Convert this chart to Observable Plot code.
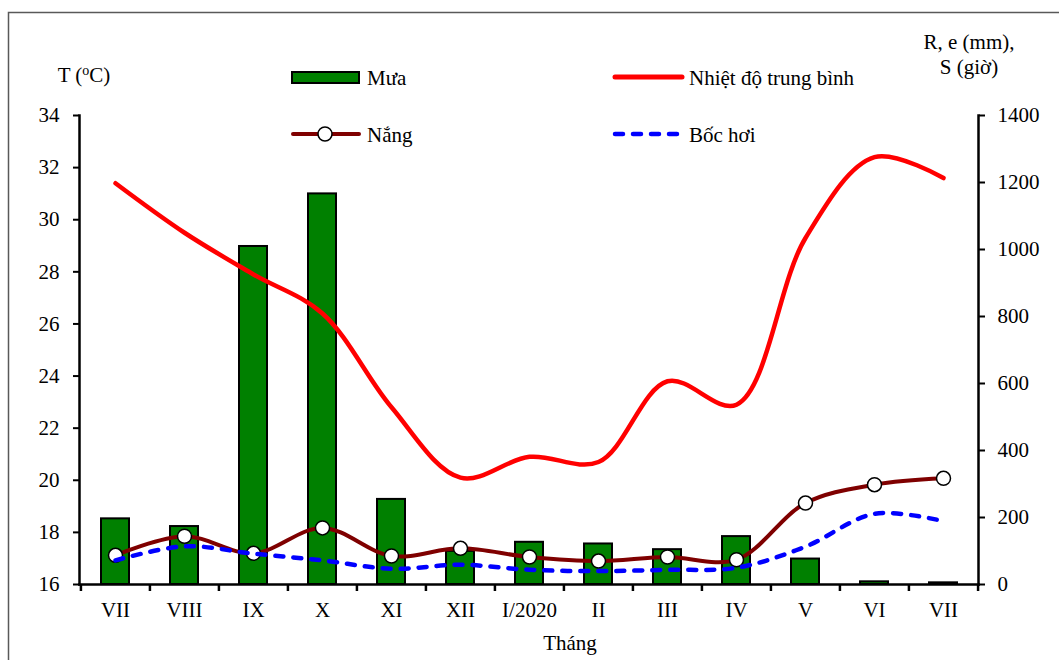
<!DOCTYPE html>
<html><head><meta charset="utf-8">
<script src="https://cdn.jsdelivr.net/npm/d3@7"></script>
<script src="https://cdn.jsdelivr.net/npm/@observablehq/plot@0.6"></script>
<style>body{margin:0;background:#fff;} #chart{width:1059px;height:660px;}</style>
</head><body><div id="chart"></div>
<script>
const months = ["VII","VIII","IX","X","XI","XII","I/2020","II","III","IV","V","VI","VII"];
const rain = [196,173,1009,1166,254,99,126,121,104,143,76,8,5];        // Mưa (mm)
const temp = [31.4,29.5,27.9,26.4,22.8,20.1,20.9,20.7,23.8,22.9,29.3,32.4,31.6]; // Nhiệt độ (°C)
const sun  = [87,144,93,169,85,108,82,70,82,74,243,298,317];           // Nắng (giờ)
const evap = [72,114,92,72,47,59,44,40,44,50,113,211,189];             // Bốc hơi (mm)
const tTicks = [16,18,20,22,24,26,28,30,32,34];
const rTicks = [0,200,400,600,800,1000,1200,1400];

const W = 1059, H = 660, ML = 79, MR = 81, MT = 115, MB = 76;
const step = (W - ML - MR) / months.length;
const toT = v => 16 + v * 18 / 1400;
const fromT = t => String(Math.round((t - 16) * 1400 / 18));

const rows = months.map((m, i) => ({i, m, rain: rain[i], temp: temp[i], sun: sun[i], evap: evap[i]}));
const FONT = "'Liberation Serif', 'Times New Roman', serif";

const svg = Plot.plot({
  width: W, height: H,
  marginLeft: ML, marginRight: MR, marginTop: MT, marginBottom: MB,
  style: {fontFamily: FONT, fontSize: "21px", color: "#000", background: "#fff"},
  x: {type: "band", domain: d3.range(months.length), paddingInner: 0.6, paddingOuter: 0.3, axis: null},
  y: {domain: [16, 34], axis: null},
  marks: [
    Plot.barY(rows, {x: "i", y1: 16, y2: d => toT(d.rain), fill: "#008000", stroke: "#000", strokeWidth: 2}),
    Plot.line(rows, {x: "i", y: "temp", stroke: "#ff0000", strokeWidth: 4.5, curve: "catmull-rom"}),
    Plot.line(rows, {x: "i", y: d => toT(d.sun), stroke: "#7f0000", strokeWidth: 4, curve: "catmull-rom"}),
    Plot.dot(rows, {x: "i", y: d => toT(d.sun), r: 7, fill: "#fff", stroke: "#000", strokeWidth: 1.5}),
    Plot.line(rows, {x: "i", y: d => toT(d.evap), stroke: "#0000ff", strokeWidth: 4.5, strokeDasharray: "8,10", strokeLinecap: "round", curve: "catmull-rom"}),
    Plot.frame({anchor: "left", stroke: "#000", strokeWidth: 2.5}),
    Plot.frame({anchor: "right", stroke: "#000", strokeWidth: 2.5}),
    Plot.frame({anchor: "bottom", stroke: "#000", strokeWidth: 2.5}),
    Plot.axisY(tTicks, {anchor: "left", label: null, tickSize: 6, tickPadding: 14, strokeWidth: 2, tickFormat: d => String(d), fontSize: 21}),
    Plot.axisY(rTicks.map(toT), {anchor: "right", label: null, tickSize: 6, tickPadding: 13, strokeWidth: 2, tickFormat: fromT, fontSize: 21}),
    Plot.axisX({anchor: "bottom", label: null, tickSize: 0, tickPadding: 18, tickFormat: i => months[i], fontSize: 21}),
    Plot.ruleX(rows, {x: "i", dx: -step / 2, insetTop: H - MT - MB, insetBottom: -7, stroke: "#000", strokeWidth: 2.5}),
    Plot.ruleX(rows.slice(-1), {x: "i", dx: step / 2, insetTop: H - MT - MB, insetBottom: -7, stroke: "#000", strokeWidth: 2.5})
  ]
});

document.getElementById("chart").appendChild(svg);

const s = d3.select(svg);
// outer frame
s.append("path").attr("d", `M8.5,${H} V12.5 H${W}`).attr("fill", "none").attr("stroke", "#595959").attr("stroke-width", 1.5);

const txt = (x, y, str, anchor = "start") => s.append("text").attr("x", x).attr("y", y)
  .attr("text-anchor", anchor).attr("font-family", FONT).attr("font-size", 21).attr("fill", "#000").text(str);

// axis titles
const tt = s.append("text").attr("x", 84).attr("y", 82).attr("text-anchor", "middle")
  .attr("font-family", FONT).attr("font-size", 21).attr("fill", "#000");
tt.append("tspan").text("T (");
tt.append("tspan").attr("dy", -7).attr("font-size", 14).text("o");
tt.append("tspan").attr("dy", 7).text("C)");
txt(969, 49, "R, e (mm),", "middle");
txt(969, 74, "S (giờ)", "middle");
txt(570, 650, "Tháng", "middle");

// legend
s.append("rect").attr("x", 292).attr("y", 72).attr("width", 67).attr("height", 11)
  .attr("fill", "#008000").attr("stroke", "#000").attr("stroke-width", 2);
txt(367, 85, "Mưa");
s.append("line").attr("x1", 293).attr("x2", 359).attr("y1", 134).attr("y2", 134)
  .attr("stroke", "#7f0000").attr("stroke-width", 4).attr("stroke-linecap", "round");
s.append("circle").attr("cx", 325).attr("cy", 134).attr("r", 7).attr("fill", "#fff").attr("stroke", "#000").attr("stroke-width", 1.5);
txt(367, 142, "Nắng");
s.append("line").attr("x1", 615).attr("x2", 682).attr("y1", 77).attr("y2", 77)
  .attr("stroke", "#ff0000").attr("stroke-width", 5).attr("stroke-linecap", "round");
txt(689, 85, "Nhiệt độ trung bình");
s.append("line").attr("x1", 615).attr("x2", 682).attr("y1", 134).attr("y2", 134)
  .attr("stroke", "#0000ff").attr("stroke-width", 4.5).attr("stroke-dasharray", "8,10").attr("stroke-linecap", "round");
txt(689, 142, "Bốc hơi");
</script>
</body></html>
